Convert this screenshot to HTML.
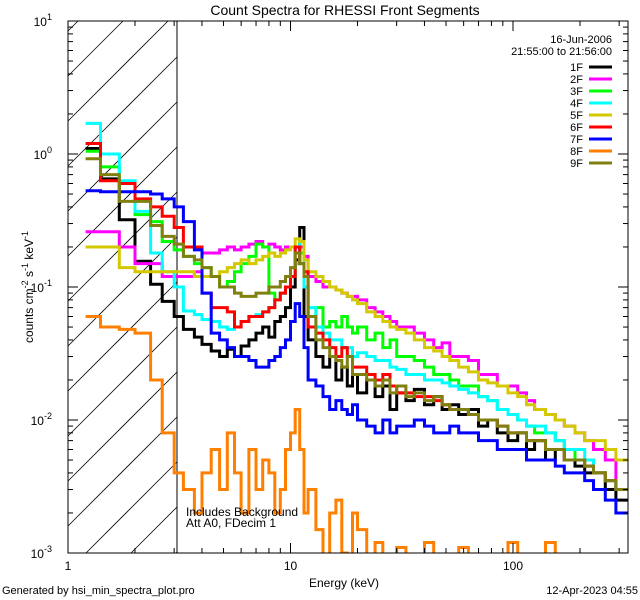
<!DOCTYPE html>
<html><head><meta charset="utf-8"><style>
html,body{margin:0;padding:0;background:#fff;width:640px;height:600px;overflow:hidden;}
svg{display:block;font-family:"Liberation Sans",sans-serif;}
</style></head><body>
<svg id="chart" width="640" height="600" viewBox="0 0 640 600" xmlns="http://www.w3.org/2000/svg">
<rect width="640" height="600" fill="#fff"/>
<defs><clipPath id="pa"><rect x="68" y="21" width="560" height="532"/></clipPath></defs>
<g id="hatch"></g>
<line x1="177" y1="21" x2="177" y2="553" stroke="#000" stroke-width="1"/>
<g id="series" clip-path="url(#pa)"></g>
<rect x="68" y="21" width="560" height="532" fill="none" stroke="#000" stroke-width="1"/>
<g id="axes"></g>
<text x="345" y="15" font-size="14" text-anchor="middle">Count Spectra for RHESSI Front Segments</text>
<text x="344" y="587" font-size="12" text-anchor="middle">Energy (keV)</text>
<text transform="translate(33,287) rotate(-90)" font-size="12" text-anchor="middle">counts cm<tspan dy="-5" font-size="9">-2</tspan><tspan dy="5"> s</tspan><tspan dy="-5" font-size="9">-1</tspan><tspan dy="5"> keV</tspan><tspan dy="-5" font-size="9">-1</tspan></text>
<text x="186" y="516" font-size="12">Includes Background</text>
<text x="186" y="527" font-size="12">Att A0, FDecim 1</text>
<text x="2" y="594" font-size="11">Generated by hsi_min_spectra_plot.pro</text>
<text x="638" y="594" font-size="11" text-anchor="end">12-Apr-2023 04:55</text>
<text x="612" y="43" font-size="11" text-anchor="end">16-Jun-2006</text>
<text x="612" y="55" font-size="11" text-anchor="end">21:55:00 to 21:56:00</text>
<g id="legend"></g>
</svg>
<script>
const edges=[1.2,1.4,1.7,2.0,2.35,2.65,3.0,3.3,3.7,4.0,4.4,4.8,5.2,5.6,6.0,6.5,7.0,7.5,8.0,8.5,9.0,9.5,10,10.5,11,11.5,12,13,14,15,16,17,18,19,20,22,24,26,28,30,33,36,40,44,48,52,57,63,70,77,85,95,105,115,125,140,155,170,190,210,230,260,290,330];
const labels=["1F","2F","3F","4F","5F","6F","7F","8F","9F"];
const colors=["#000000","#ff00ff","#00ff00","#00ffff","#d4c800","#ff0000","#0000ff","#ff8000","#808010"];
const s1F=[1.1,.65,.32,.156,.105,.078,.06,.048,.042,.037,
.033,.03,.034,.03,.036,.04,.045,.05,.042,.055,
.06,.07,.1,.16,.28,.06,.04,.03,.025,.03,
.02,.025,.018,.022,.016,.02,.015,.018,.012,.016,
.014,.017,.013,.015,.012,.013,.011,.012,.009,.01,
.008,.007,.008,.006,.007,.005,.006,.005,.0045,.004,
.004,.003,.0025];
const s2F=[.26,.26,.2,.15,.15,.12,.12,.12,.13,.18,
.18,.19,.2,.19,.2,.21,.22,.2,.21,.2,
.19,.2,.2,.18,.2,.17,.12,.11,.1,.1,
.095,.09,.085,.085,.08,.07,.065,.06,.055,.05,
.05,.045,.04,.035,.038,.03,.03,.028,.022,.022,
.018,.018,.016,.014,.012,.011,.01,.009,.008,.007,
.006,.005,.003];
const s3F=[1.05,.8,.62,.35,.31,.22,.19,.17,.15,.14,
.12,.1,.11,.13,.15,.17,.21,.2,.09,.08,
.09,.1,.12,.15,.18,.1,.06,.07,.05,.055,
.05,.06,.05,.045,.05,.04,.045,.035,.04,.03,
.03,.028,.025,.022,.022,.02,.018,.018,.015,.014,
.012,.011,.01,.009,.008,.008,.007,.006,.005,.005,
.004,.0035,.003];
const s4F=[1.7,1.0,.63,.37,.18,.13,.1,.066,.062,.057,
.055,.05,.048,.05,.055,.06,.062,.065,.07,.08,
.09,.1,.12,.15,.22,.1,.07,.05,.045,.04,
.04,.035,.035,.03,.032,.03,.028,.028,.025,.024,
.022,.022,.02,.02,.019,.018,.017,.016,.015,.014,
.012,.011,.01,.009,.009,.008,.007,.006,.006,.005,
.004,.0035,.003];
const s5F=[.2,.2,.14,.13,.13,.13,.13,.13,.12,.12,
.12,.13,.14,.15,.16,.15,.16,.17,.18,.17,
.18,.19,.2,.23,.22,.16,.13,.12,.11,.1,
.095,.09,.085,.08,.075,.065,.06,.055,.05,.048,
.045,.04,.035,.033,.03,.028,.025,.023,.02,.019,
.018,.016,.015,.013,.012,.011,.01,.009,.008,.007,
.007,.006,.005];
const s6F=[1.2,.63,.6,.46,.4,.34,.28,.2,.2,.09,
.07,.07,.065,.05,.055,.06,.06,.065,.07,.08,
.09,.1,.12,.2,.15,.13,.05,.045,.04,.035,
.03,.035,.03,.025,.025,.022,.02,.022,.018,.016,
.016,.015,.015,.014,.013,.012,.012,.011,.01,.01,
.009,.008,.008,.007,.007,.006,.006,.005,.005,.0045,
.004,.0035,.003];
const s7F=[.53,.52,.52,.52,.5,.46,.4,.31,.19,.09,
.045,.04,.035,.03,.03,.028,.025,.025,.028,.03,
.035,.04,.055,.075,.06,.035,.02,.018,.015,.012,
.014,.012,.011,.013,.01,.009,.008,.01,.008,.009,
.009,.01,.009,.008,.008,.009,.008,.008,.007,.007,
.006,.006,.006,.005,.005,.005,.0045,.004,.004,.0035,
.003,.0025,.002];
const s8F=[.06,.05,.048,.045,.02,.008,.004,.003,.002,.004,
.006,.003,.008,.004,.002,.006,.003,.005,.004,.002,
.003,.006,.008,.012,.006,.002,.003,.0015,.0008,.002,
.0025,.001,.0005,.002,.0015,.0005,.0012,.0005,.0005,.0011,
.0005,.0005,.0012,.0005,.0005,.0005,.0011,.0005,.0005,.0005,
.0005,.0012,.0005,.0005,.0005,.0012,.0005,.0005,.0005,.0005,
.0005,.0005,.0005];
const s9F=[.92,.7,.44,.44,.29,.24,.21,.17,.16,.14,
.12,.1,.1,.09,.085,.085,.09,.09,.1,.1,
.11,.12,.14,.18,.15,.12,.06,.04,.035,.03,
.028,.025,.03,.022,.022,.02,.018,.02,.016,.018,
.015,.016,.014,.015,.013,.012,.012,.011,.01,.01,
.009,.008,.008,.007,.007,.006,.006,.005,.005,.0045,
.004,.0035,.003];
const seriesData=[s1F,s2F,s3F,s4F,s5F,s6F,s7F,s8F,s9F];
const xTicks=[1,10,100];
const yExp=[-3,-2,-1,0,1];

const NS="http://www.w3.org/2000/svg";
const X=e=>68+222.5*Math.log10(e);
const Y=v=>553-133*(Math.log10(v)+3);
const clampY=v=>Math.max(21,Math.min(553,v));
function mk(t,a,p){const el=document.createElementNS(NS,t);for(const k in a)el.setAttribute(k,a[k]);p.appendChild(el);return el;}

// hatch lines clipped manually to region x 68..177, y 21..553 ; line: y = y0 - (x-68)
const hg=document.getElementById('hatch');
for(let y0=21+10;y0<553+109;y0+=45){
  let xa=68, ya=y0;
  if(ya>553){xa=68+(ya-553);ya=553;}
  let xb=177, yb=y0-109;
  if(yb<21){xb=68+(y0-21);yb=21;}
  if(xa>=xb) continue;
  const l=mk('line',{x1:xa,y1:ya,x2:xb,y2:yb,stroke:'#000','stroke-width':0.8},hg);
  
  
}
const sg=document.getElementById('series');
seriesData.forEach((vals,si)=>{
  let d='';
  vals.forEach((v,i)=>{
    const x0=X(edges[i]),x1=Math.min(628,X(edges[i+1])),y=clampY(Y(v)+0)+(Y(v)>553?3:0);
    d+=(i===0?'M':'L')+x0.toFixed(1)+','+y.toFixed(1)+'L'+x1.toFixed(1)+','+y.toFixed(1);
  });
  const p=mk('path',{d:d,fill:'none',stroke:colors[si],'stroke-width':3,'stroke-linejoin':'miter'},sg);
  
  
});
const ag=document.getElementById('axes');
for(let d=0;d<3;d++){
  for(let m=1;m<10;m++){
    const e=Math.pow(10,d)*m; const x=X(e); if(x>628)break;
    const len=m===1?10:5;
    const t1=mk('line',{x1:x,y1:553,x2:x,y2:553-len,stroke:'#000'},ag);
    
    
    const t2=mk('line',{x1:x,y1:21,x2:x,y2:21+len,stroke:'#000'},ag);
    
    
  }
}
xTicks.forEach(t=>{
  const tx=mk('text',{x:X(t),y:570,'font-size':12,'text-anchor':'middle'},ag);
  tx.textContent=String(t);
  
  
});
for(let p=-3;p<1;p++){
  for(let m=1;m<10;m++){
    const y=Y(Math.pow(10,p)*m); const len=m===1?10:5;
    const t1=mk('line',{x1:68,y1:y,x2:68+len,y2:y,stroke:'#000'},ag);
    
    
    const t2=mk('line',{x1:628,y1:y,x2:628-len,y2:y,stroke:'#000'},ag);
    
    
  }
}
yExp.forEach(p=>{
  const y=Y(Math.pow(10,p));
  const tx=mk('text',{x:52,y:y+5,'font-size':12,'text-anchor':'end'},ag);
  
  
  tx.appendChild(document.createTextNode('10'));
  const sp=document.createElementNS(NS,'tspan');
  sp.setAttribute('dy','-6');sp.setAttribute('font-size','9');
  sp.textContent=String(p);tx.appendChild(sp);
});
const lg=document.getElementById('legend');
labels.forEach((lab,i)=>{
  const y=67+i*12;
  const t=mk('text',{x:583,y:y+4,'font-size':11,'text-anchor':'end'},lg);
  t.textContent=lab;
  
  
  const l=mk('line',{x1:589,y1:y,x2:612,y2:y,stroke:colors[i],'stroke-width':3},lg);
  
  
});
</script>
</body></html>
